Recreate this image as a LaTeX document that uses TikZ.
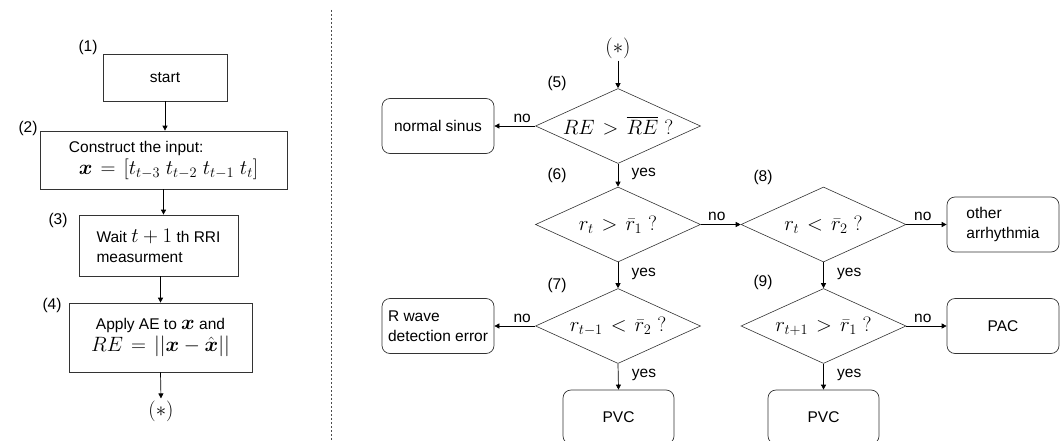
\documentclass[tikz,border=0pt]{standalone}
\usepackage{amsmath}
\usepackage{fontspec}
\setmainfont{Liberation Sans}
\usepackage{tikz}
\usetikzlibrary{shapes.geometric,arrows.meta}

\newcommand{\mth}[1]{{\fontsize{21}{23}\selectfont\thickmuskip=7mu plus 5mu$#1$}}

\begin{document}
\begin{tikzpicture}[x=1pt, y=-1pt, font=\fontsize{15.5}{20}\selectfont,
    box/.style={draw=black!80, line width=0.7pt, inner sep=0pt},
    rbox/.style={box, rounded corners=8pt, minimum width=112pt, minimum height=55pt},
    cond/.style={draw=black!80, line width=0.6pt, diamond, aspect=2.2, inner sep=-3pt,
        minimum width=165pt, minimum height=75pt},
    arr/.style={-{Triangle[length=5pt,width=5pt]}, line width=0.7pt},
    num/.style={inner sep=0pt}]
    \useasboundingbox (0,0) rectangle (1064,441);
    % left: computing RE
    \node[box, minimum width=124pt, minimum height=47pt] (start) at (165,77.5) {start};
    \node[box, minimum width=247pt, minimum height=58pt, align=left] (input) at (163.5,160)
        {Construct the input:\\[2pt]\hspace*{10pt}\mth{\boldsymbol{x} = [t_{t-3}\ t_{t-2}\ t_{t-1}\ t_t]}};
    \node[box, minimum width=159pt, minimum height=61pt, align=left] (wait) at (158.5,245.5)
        {Wait \mth{t+1} th RRI\\measurment};
    \node[box, minimum width=183pt, minimum height=69pt, align=center] (apply) at (160.5,337.5)
        {Apply AE to \mth{\boldsymbol{x}} and\\[2pt]\mth{RE = ||\boldsymbol{x}-\hat{\boldsymbol{x}}||}};
    \node[inner sep=2pt] (star1) at (161,411) {\mth{(*)}};
    \node[num] (lbl1) at (88,47) {(1)};
    \node[num] (lbl2) at (28,128) {(2)};
    \node[num] (lbl3) at (58,220) {(3)};
    \node[num] (lbl4) at (52,305) {(4)};
    \draw[arr] (start.south) -- (start.south |- input.north);
    \draw[arr] (input.south) -- (input.south |- wait.north);
    \draw[arr] (wait.south -| apply) -- (apply.north);
    \draw[arr] (apply.south) -- (star1.north);

    \draw[dash pattern=on 2pt off 2pt, black!70, line width=0.5pt] (331,10) -- (331,441);

    % right: decisions
    \node[inner sep=2pt] (star2) at (618,48) {\mth{(*)}};
    \node[cond] (d5) at (618,126) {\mth{RE > \overline{RE}\ ?}};
    \node[rbox] (nsin) at (438,126) {normal sinus};
    \node[cond] (d6) at (618,224.5) {\mth{r_t > \bar{r}_1\ ?}};
    \node[cond] (d8) at (823.5,224.5) {\mth{r_t < \bar{r}_2\ ?}};
    \node[rbox, align=left] (other) at (1003,224.5) {other\\arrhythmia};
    \node[cond] (d7) at (618,326) {\mth{r_{t-1} < \bar{r}_2\ ?}};
    \node[rbox, align=left] (rwave) at (438,326) {R wave\\detection error};
    \node[cond] (d9) at (823.5,326) {\mth{r_{t+1} > \bar{r}_1\ ?}};
    \node[rbox] (pac) at (1003,326) {PAC};
    \node[rbox, minimum width=111pt, minimum height=54pt] (pvc1) at (618.5,417) {PVC};
    \node[rbox, minimum width=111pt, minimum height=54pt] (pvc2) at (823.5,417) {PVC};
    \node[num] (lbl5) at (557,83) {(5)};
    \node[num] (lbl6) at (557,175) {(6)};
    \node[num] (lbl7) at (557,285) {(7)};
    \node[num] (lbl8) at (763,177) {(8)};
    \node[num] (lbl9) at (763,282) {(9)};

    \draw[arr] (star2.south) -- (d5.north);
    \draw[arr] (d5.west) -- node[pos=0.32, above] {no} (nsin.east);
    \draw[arr] (d5.south) -- node[pos=0.45, right, xshift=10pt] {yes} (d6.north);
    \draw[arr] (d6.east) -- node[pos=0.4, above] {no} (d8.west);
    \draw[arr] (d8.east) -- node[pos=0.41, above] {no} (other.west);
    \draw[arr] (d6.south) -- node[pos=0.45, right, xshift=10pt] {yes} (d7.north);
    \draw[arr] (d8.south) -- node[pos=0.45, right, xshift=10pt] {yes} (d9.north);
    \draw[arr] (d7.west) -- node[pos=0.32, above] {no} (rwave.east);
    \draw[arr] (d9.east) -- node[pos=0.41, above] {no} (pac.west);
    \draw[arr] (d7.south) -- node[pos=0.45, right, xshift=10pt] {yes} (pvc1.north);
    \draw[arr] (d9.south) -- node[pos=0.45, right, xshift=10pt] {yes} (pvc2.north);
\end{tikzpicture}
\end{document}
